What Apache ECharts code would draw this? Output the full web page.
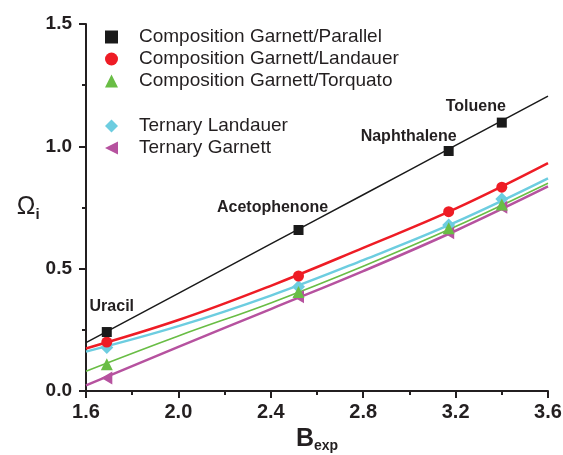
<!DOCTYPE html>
<html><head><meta charset="utf-8">
<script src="https://cdn.jsdelivr.net/npm/echarts@6/dist/echarts.min.js"></script>
<style>html,body{margin:0;padding:0;background:#fff}#c{width:563px;height:455px}</style>
</head><body><div id="c"></div>
<script>
const compounds = ['Uracil', 'Acetophenone', 'Naphthalene', 'Toluene'];
const bExp = [1.69, 2.52, 3.17, 3.40];
const garnettParallel = [0.241, 0.658, 0.981, 1.097];
const garnettLandauer = [0.200, 0.470, 0.733, 0.833];
const garnettTorquato = [0.109, 0.405, 0.665, 0.762];
const ternaryLandauer = [0.178, 0.426, 0.678, 0.785];
const ternaryGarnett = [0.053, 0.385, 0.647, 0.751];
const fitX = [1.6, 2.0, 2.4, 2.8, 3.2, 3.6];
const fitParallel = [0.198, 0.399, 0.601, 0.802, 1.004, 1.205];
const fitLandauer = [0.174, 0.290, 0.430, 0.585, 0.745, 0.931];
const fitTorquato = [0.081, 0.225, 0.360, 0.510, 0.672, 0.849];
const fitTernLandauer = [0.161, 0.265, 0.390, 0.535, 0.690, 0.869];
const fitTernGarnett = [0.023, 0.180, 0.335, 0.490, 0.655, 0.836];
const xTicks = [1.6, 2.0, 2.4, 2.8, 3.2, 3.6];
const yTicks = [0.0, 0.5, 1.0, 1.5];
const seriesNames = ['Composition Garnett/Parallel', 'Composition Garnett/Landauer', 'Composition Garnett/Torquato', 'Ternary Landauer', 'Ternary Garnett'];

const labelOffsets = [[5, -25], [-26, -22], [-40, -14], [-26, -16]];
const pts = (xs, ys) => xs.map((x, i) => [x, ys[i]]);
const FONT = 'Liberation Sans, Arial, sans-serif';

const colors = ['#1a1a1a', '#ee1c25', '#69bd45', '#6dcde0', '#b6529f'];
const symbols = ['rect', 'circle', 'triangle', 'diamond', 'path://M0,5 L10,0 L10,10 Z'];
const sizes = [10, 11, 12, 13, [11, 13]];
const vals = [garnettParallel, garnettLandauer, garnettTorquato, ternaryLandauer, ternaryGarnett];
const fits = [fitParallel, fitLandauer, fitTorquato, fitTernLandauer, fitTernGarnett];
const widths = [1.5, 2.5, 1.6, 2.5, 2.5];

const series = [];
fits.forEach((f, i) => {
  series.push({
    type: 'line', name: 'fit' + i, data: pts(fitX, f), smooth: 0.4, showSymbol: false,
    lineStyle: { color: colors[i], width: widths[i] }, z: 2, silent: true
  });
});
vals.forEach((v, i) => {
  const s = {
    type: 'scatter', name: seriesNames[i], data: pts(bExp, v), symbol: symbols[i],
    symbolSize: sizes[i], itemStyle: { color: colors[i], opacity: 1 }, z: 5 - i + 5
  };
  if (i === 0) {
    s.data = bExp.map((x, k) => ({
      value: [x, v[k]],
      label: { show: true, formatter: compounds[k], offset: labelOffsets[k], position: 'inside',
        fontFamily: FONT, fontWeight: 'bold', fontSize: 16, color: '#231f20' }
    }));
  }
  series.push(s);
});

const legendCommon = {
  orient: 'vertical', left: 105, itemWidth: 13, itemHeight: 13, padding: 0, itemGap: 2,
  textStyle: { fontFamily: FONT, fontSize: 19, color: '#231f20', lineHeight: 20, padding: [0, 0, 0, 16] },
  selectedMode: false
};

const chart = echarts.init(document.getElementById('c'), null, { renderer: 'canvas' });
chart.setOption({
  backgroundColor: '#fff',
  animation: false,
  grid: { left: 86, right: 15, top: 24, bottom: 64, containLabel: false, outerBoundsMode: 'none' },
  legend: [
    Object.assign({ top: 27, data: seriesNames.slice(0, 3) }, legendCommon),
    Object.assign({ top: 116, data: seriesNames.slice(3) }, legendCommon)
  ],
  xAxis: {
    type: 'value', min: xTicks[0], max: xTicks[xTicks.length - 1], interval: 0.4,
    name: '{b|B}{s|exp}', nameLocation: 'middle', nameGap: 35,
    nameTextStyle: { rich: {
      b: { fontFamily: FONT, fontWeight: 'bold', fontSize: 25, color: '#231f20' },
      s: { fontFamily: FONT, fontWeight: 'bold', fontSize: 14, color: '#231f20', padding: [13, 0, 0, 0] }
    } },
    axisLine: { lineStyle: { color: '#231f20', width: 2 } },
    axisTick: { length: 7, lineStyle: { width: 2, color: '#231f20' } },
    minorTick: { show: true, splitNumber: 2, length: 4, lineStyle: { width: 2, color: '#231f20' } },
    splitLine: { show: false },
    axisLabel: { fontFamily: FONT, fontWeight: 'bold', fontSize: 20, color: '#231f20', margin: 11,
      formatter: v => v.toFixed(1) }
  },
  yAxis: {
    type: 'value', min: yTicks[0], max: yTicks[yTicks.length - 1], interval: 0.5,
    name: '{o|Ω}{s|i}', nameLocation: 'middle', nameRotate: 0, nameGap: 46,
    nameTextStyle: { rich: {
      o: { fontFamily: FONT, fontSize: 25, color: '#231f20' },
      s: { fontFamily: FONT, fontWeight: 'bold', fontSize: 15, color: '#231f20', padding: [14, 0, 0, 0] }
    } },
    axisLine: { show: true, lineStyle: { color: '#231f20', width: 2 } },
    axisTick: { show: true, length: 7, lineStyle: { width: 2, color: '#231f20' } },
    minorTick: { show: true, splitNumber: 2, length: 4, lineStyle: { width: 2, color: '#231f20' } },
    splitLine: { show: false },
    axisLabel: { fontFamily: FONT, fontWeight: 'bold', fontSize: 19, color: '#231f20', margin: 14,
      formatter: v => v.toFixed(1) }
  },
  series: series
});
</script></body></html>
